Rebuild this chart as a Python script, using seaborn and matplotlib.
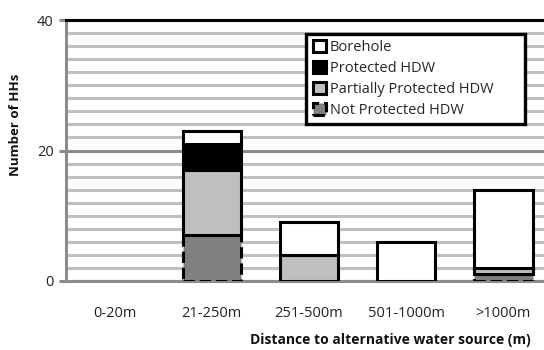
import matplotlib
matplotlib.use("Agg")
import matplotlib.pyplot as plt
from matplotlib.ticker import MultipleLocator
from matplotlib.patches import Patch
import numpy as np
import seaborn as sns

# Households by distance to the alternative water source, split by source type
categories = ["0-20m", "21-250m", "251-500m", "501-1000m", ">1000m"]
not_protected_hdw = [0, 7, 0, 0, 1]
partially_protected_hdw = [0, 10, 4, 0, 1]
protected_hdw = [0, 4, 0, 0, 0]
borehole = [0, 2, 5, 6, 12]
y_ticks = [0, 20, 40]

sns.set_theme(style="white")
plt.rcParams["font.family"] = ["Open Sans", "DejaVu Sans"]

W, H = 544, 350
fig = plt.figure(figsize=(W / 100, H / 100), dpi=100)
# plot area runs slightly past the right edge of the canvas
ax = fig.add_axes([66 / W, 69 / H, 486 / W, 261 / H])

series = [
    ("Not Protected HDW", not_protected_hdw, "#808080", "--"),
    ("Partially Protected HDW", partially_protected_hdw, "#BFBFBF", "-"),
    ("Protected HDW", protected_hdw, "#000000", "-"),
    ("Borehole", borehole, "#FFFFFF", "-"),
]

bottom = np.zeros(len(categories))
handles = []
for name, vals, col, ls in series:
    vals = np.array(vals, dtype=float)
    edges = ["black" if v > 0 else "none" for v in vals]
    sns.barplot(x=categories, y=vals, ax=ax, errorbar=None, width=0.6,
                color=col, saturation=1, bottom=bottom, edgecolor=edges,
                linewidth=2.2, linestyle=ls, zorder=3)
    bottom = bottom + vals
    handles.append(Patch(facecolor=col, edgecolor="black", linewidth=2.2,
                         linestyle=ls, label=name))

ax.set_xlim(-0.5, 4.5)
ax.set_ylim(0, 40)
ax.set_yticks(y_ticks)
ax.yaxis.set_minor_locator(MultipleLocator(2))
ax.set_axisbelow(True)
ax.grid(which="minor", axis="y", color="#BFBFBF", linewidth=2.2)
ax.grid(which="major", axis="y", color="#8C8C8C", linewidth=2.2)
ax.grid(False, axis="x")

for side in ["left", "bottom"]:
    ax.spines[side].set_color("#8C8C8C")
    ax.spines[side].set_linewidth(2.2)
for side in ["top", "right"]:
    ax.spines[side].set_color("black")
    ax.spines[side].set_linewidth(2.2)

ax.tick_params(axis="y", which="major", left=True, length=5, width=2.2,
               color="#8C8C8C", labelsize=10.5, pad=4, labelcolor="#222222")
ax.tick_params(axis="y", which="minor", left=False)
ax.tick_params(axis="x", bottom=False, labelsize=10.5, pad=12, labelcolor="#222222")

ax.set_ylabel("Number of HHs", fontsize=9.5, fontweight="bold", color="#111111")
ax.yaxis.set_label_coords(-0.09, 0.6)
ax.set_xlabel("Distance to alternative water source (m)", fontsize=10,
              fontweight="bold", color="#111111")
ax.xaxis.label.set_horizontalalignment("left")
ax.xaxis.label.set_verticalalignment("center")
ax.xaxis.set_label_coords(184 / 486, -59 / 261)

leg = ax.legend(handles=handles[::-1], loc="upper left",
                bbox_to_anchor=(306 / W, 1 - 37 / H, 219 / W, 0.01),
                bbox_transform=fig.transFigure, mode="expand",
                fontsize=10.5, frameon=True, fancybox=False, framealpha=1,
                handlelength=0.9, handleheight=0.9, handletextpad=0.3,
                labelspacing=0.4, borderpad=0.45, borderaxespad=0)
leg.get_frame().set_edgecolor("black")
leg.get_frame().set_linewidth(2.4)
leg.set_zorder(5)

fig.savefig("out.png", dpi=100)
